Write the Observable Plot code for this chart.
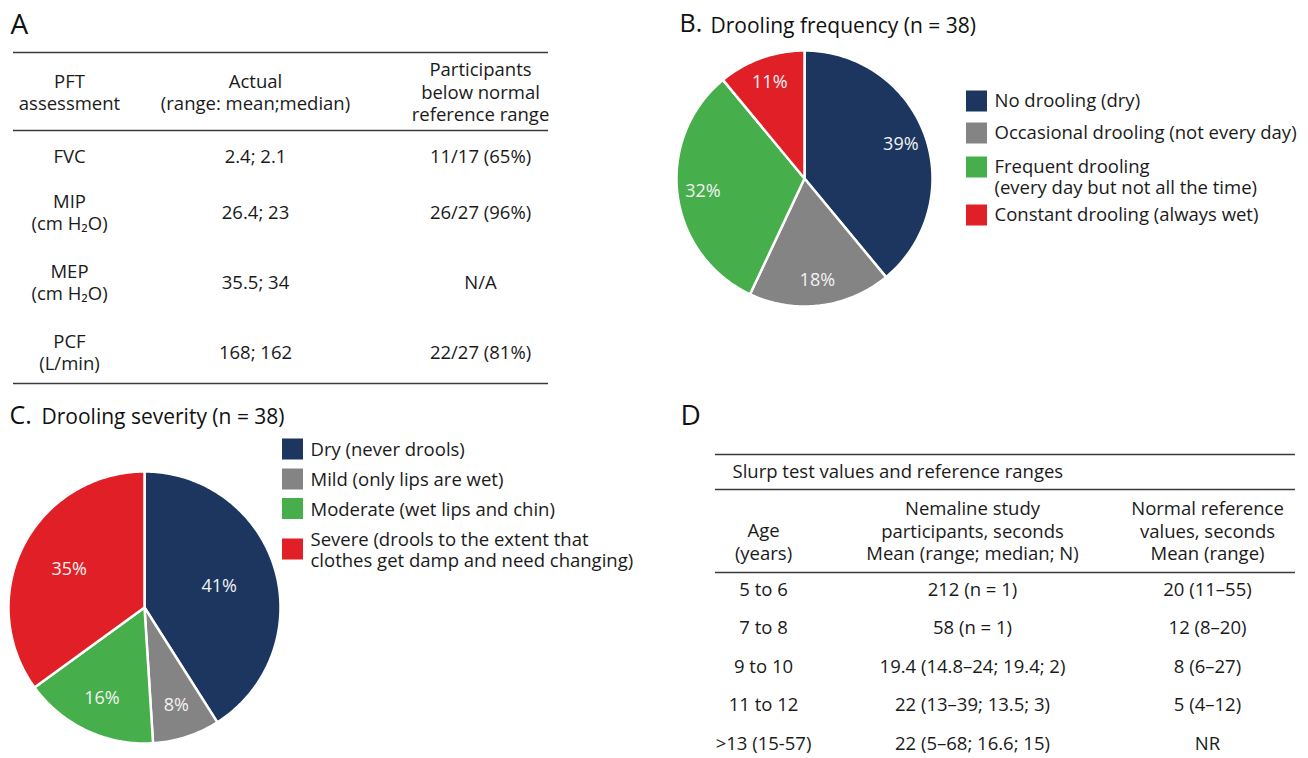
<!DOCTYPE html>
<html>
<head>
<meta charset="utf-8">
<script src="https://cdn.jsdelivr.net/npm/d3@7"></script>
<script src="https://cdn.jsdelivr.net/npm/@observablehq/plot@0.6"></script>
<style>
  html, body { margin: 0; padding: 0; background: #fff; }
  #fig { position: relative; width: 1308px; height: 758px; overflow: hidden; background: #fff; }
  #fig > div { position: absolute; }
  #fig svg { display: block; }
</style>
</head>
<body>
<div id="fig"></div>
<script>
// ---- Panel A: pulmonary function tests ----
const pftHeaders = ["PFT\nassessment", "Actual\n(range: mean;median)", "Participants\nbelow normal\nreference range"];
const pftTests = ["FVC", "MIP\n(cm H₂O)", "MEP\n(cm H₂O)", "PCF\n(L/min)"];
const pftActual = ["2.4; 2.1", "26.4; 23", "35.5; 34", "168; 162"];
const pftBelow = ["11/17 (65%)", "26/27 (96%)", "N/A", "22/27 (81%)"];

// ---- Panel B: drooling frequency ----
const freqTitle = "Drooling frequency (n = 38)";
const freqCategories = [
  "No drooling (dry)",
  "Occasional drooling (not every day)",
  "Frequent drooling\n(every day but not all the time)",
  "Constant drooling (always wet)"
];
const freqPercent = [39, 18, 32, 11];

// ---- Panel C: drooling severity ----
const severityTitle = "Drooling severity (n = 38)";
const severityCategories = [
  "Dry (never drools)",
  "Mild (only lips are wet)",
  "Moderate (wet lips and chin)",
  "Severe (drools to the extent that\nclothes get damp and need changing)"
];
const severityPercent = [41, 8, 16, 35];

// ---- Panel D: slurp test ----
const slurpCaption = "Slurp test values and reference ranges";
const slurpHeaders = ["Age\n(years)", "Nemaline study\nparticipants, seconds\nMean (range; median; N)", "Normal reference\nvalues, seconds\nMean (range)"];
const slurpAges = ["5 to 6", "7 to 8", "9 to 10", "11 to 12", ">13 (15-57)"];
const slurpNemaline = ["212 (n = 1)", "58 (n = 1)", "19.4 (14.8–24; 19.4; 2)", "22 (13–39; 13.5; 3)", "22 (5–68; 16.6; 15)"];
const slurpNormal = ["20 (11–55)", "12 (8–20)", "8 (6–27)", "5 (4–12)", "NR"];

// ---- styling ----
const palette = ["#1c365f", "#848484", "#46ae4b", "#e11f27"];
const FONT = "'Open Sans', 'Noto Sans', sans-serif";
const INK = "#1a1a1a";
const RULE = "#3a3a3a";
const W = 1308, H = 758;

// ---- layout ----
const A = {x1: 13, x2: 548, rules: [52, 130, 383], cols: [69, 255, 480], headerY: 91, rows: [155, 211, 281, 351], fs: 18.5};
const D = {x1: 715, x2: 1295, rules: [454, 489, 572], cols: [763, 972, 1207], headerY: 530, rowY0: 588, rowStep: 38.5, fs: 18.5, captionX: 732, captionY: 472};
const legendB = {x: 966, size: 21, cy: [101, 133, 167, 215], fs: 18.5, lh: 1.12, anchor: "top"};
const legendC = {x: 282, size: 21, cy: [449, 479, 508.5, 549], fs: 18.5, lh: 1.12, anchor: "middle"};
const pieB = {cx: 804, cy: 178, R: 128, label: () => 0.8};
// severity labels sit near each slice's centroid
const pieC = {cx: 144, cy: 607, R: 136, label: (t) => 1.15 * 4 * Math.sin(t / 2) / (3 * t)};

// ---- build table cells ----
const cellsA = [
  ...pftHeaders.map((t, c) => ({x: A.cols[c], y: A.headerY, t})),
  ...pftTests.map((t, r) => ({x: A.cols[0], y: A.rows[r], t})),
  ...pftActual.map((t, r) => ({x: A.cols[1], y: A.rows[r], t})),
  ...pftBelow.map((t, r) => ({x: A.cols[2], y: A.rows[r], t}))
];
const cellsD = [
  ...slurpHeaders.map((t, c) => ({x: D.cols[c], y: D.headerY + (t.split("\n").length === 2 ? 11 : 0), t})),
  ...slurpAges.map((t, r) => ({x: D.cols[0], y: D.rowY0 + r * D.rowStep, t})),
  ...slurpNemaline.map((t, r) => ({x: D.cols[1], y: D.rowY0 + r * D.rowStep, t})),
  ...slurpNormal.map((t, r) => ({x: D.cols[2], y: D.rowY0 + r * D.rowStep, t}))
];

function legendItems(categories, L) {
  return categories.map((t, i) => ({
    i, t,
    x1: L.x, x2: L.x + L.size, y1: L.cy[i] - L.size / 2, y2: L.cy[i] + L.size / 2,
    tx: L.x + L.size + 7,
    ty: L.anchor === "top" ? L.cy[i] + L.fs * (0.32 - 0.71 * L.lh) : L.cy[i]
  }));
}
const itemsB = legendItems(freqCategories, legendB);
const itemsC = legendItems(severityCategories, legendC);

const titles = [
  {x: 10, y: 33, t: "A", fs: 28},
  {x: 680, y: 424, t: "D", fs: 28},
  {x: 679, y: 31, t: "B.", fs: 25},
  {x: 710, y: 32, t: freqTitle, fs: 21},
  {x: 9, y: 423, t: "C.", fs: 25},
  {x: 41, y: 423, t: severityTitle, fs: 21}
];

const ruleRows = [
  ...A.rules.map(y => ({y, x1: A.x1, x2: A.x2})),
  ...D.rules.map(y => ({y, x1: D.x1, x2: D.x2}))
];

const main = Plot.plot({
  width: W, height: H, margin: 0,
  x: {domain: [0, W], range: [0, W], axis: null},
  y: {domain: [0, H], range: [0, H], axis: null},
  style: {fontFamily: FONT, color: INK, background: "#fff"},
  marks: [
    Plot.ruleY(ruleRows, {y: "y", x1: "x1", x2: "x2", stroke: RULE, strokeWidth: 1.6}),
    Plot.text(cellsA, {x: "x", y: "y", text: "t", fontSize: A.fs, lineHeight: 1.2, lineAnchor: "middle", fill: INK}),
    Plot.text(cellsD, {x: "x", y: "y", text: "t", fontSize: D.fs, lineHeight: 1.22, lineAnchor: "middle", fill: INK}),
    Plot.text([slurpCaption], {x: D.captionX, y: D.captionY, text: d => d, fontSize: 18.5, textAnchor: "start", fill: INK}),
    Plot.text(titles, {x: "x", y: "y", text: "t", fontSize: "fs", textAnchor: "start", lineAnchor: "bottom", fill: "#111"}),
    Plot.rect([...itemsB, ...itemsC], {x1: "x1", x2: "x2", y1: "y1", y2: "y2", fill: d => palette[d.i]}),
    Plot.text(itemsB, {x: "tx", y: "ty", text: "t", fontSize: legendB.fs, lineHeight: legendB.lh, textAnchor: "start", lineAnchor: "top", fill: INK}),
    Plot.text(itemsC, {x: "tx", y: "ty", text: "t", fontSize: legendC.fs, lineHeight: legendC.lh, textAnchor: "start", lineAnchor: "middle", fill: INK})
  ]
});

// Pie chart on a unit-circle coordinate system, slices clockwise from 12 o'clock
function pie(values, P) {
  const m = 4;
  const total = d3.sum(values);
  const ends = Array.from(d3.cumsum(values));
  const pts = [], labels = [];
  values.forEach((v, i) => {
    const a0 = 2 * Math.PI * (ends[i] - v) / total;
    const a1 = 2 * Math.PI * ends[i] / total;
    const n = Math.max(2, Math.ceil((a1 - a0) / (Math.PI / 180)));
    pts.push({i, x: 0, y: 0});
    for (let k = 0; k <= n; ++k) {
      const a = a0 + (a1 - a0) * k / n;
      pts.push({i, x: Math.sin(a), y: Math.cos(a)});
    }
    pts.push({i, x: 0, y: 0});
    const mid = (a0 + a1) / 2, r = P.label(a1 - a0);
    labels.push({x: r * Math.sin(mid), y: r * Math.cos(mid), t: `${v}%`});
  });
  const svg = Plot.plot({
    width: 2 * P.R + 2 * m, height: 2 * P.R + 2 * m, margin: m,
    x: {domain: [-1, 1], axis: null},
    y: {domain: [-1, 1], axis: null},
    style: {fontFamily: FONT, background: "transparent"},
    marks: [
      Plot.line(pts, {x: "x", y: "y", z: "i", fill: d => palette[d.i], stroke: "#fff", strokeWidth: 2.5, strokeLinejoin: "round"}),
      Plot.text(labels, {x: "x", y: "y", text: "t", fontSize: 18, fill: "#f2f2f2"})
    ]
  });
  const wrap = document.createElement("div");
  wrap.style.left = `${P.cx - P.R - m}px`;
  wrap.style.top = `${P.cy - P.R - m}px`;
  wrap.appendChild(svg);
  return wrap;
}

const fig = document.getElementById("fig");
const base = document.createElement("div");
base.style.left = "0px"; base.style.top = "0px";
base.appendChild(main);
fig.appendChild(base);
fig.appendChild(pie(freqPercent, pieB));
fig.appendChild(pie(severityPercent, pieC));
</script>
</body>
</html>
